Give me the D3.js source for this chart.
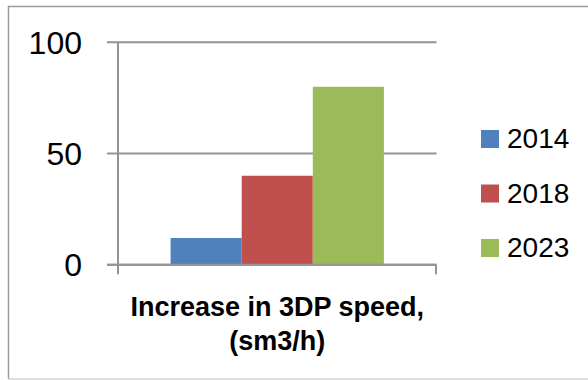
<!DOCTYPE html>
<html>
<head>
<meta charset="utf-8">
<script src="https://cdn.jsdelivr.net/npm/d3@7"></script>
<style>
  html, body { margin: 0; padding: 0; background: #fff; }
  svg { display: block; font-family: "Liberation Sans", Arial, sans-serif; }
</style>
</head>
<body>
<svg id="chart" width="588" height="380"></svg>
<script>
// Chart data
const categories = ["Increase in 3DP speed, (sm3/h)"];
const seriesNames = ["2014", "2018", "2023"];
const seriesValues = [12, 40, 80];
const seriesColors = ["#4f81bd", "#c0504d", "#9bbb59"];
const yTicks = [0, 50, 100];
const titleLines = ["Increase in 3DP speed,", "(sm3/h)"];

const svg = d3.select("#chart");

// Outer frame (right side runs off the canvas)
svg.append("path")
  .attr("d", "M600,6.5 H8.5 V379")
  .attr("fill", "none").attr("stroke", "#9a9a9a").attr("stroke-width", 1.5);
svg.append("line")
  .attr("x1", 8.5).attr("x2", 600).attr("y1", 379).attr("y2", 379)
  .attr("stroke", "#d4d4d4").attr("stroke-width", 1.5);

const plot = { left: 118, right: 436.5, top: 42.3, bottom: 264.7 };

const y = d3.scaleLinear().domain([0, 100]).range([plot.bottom, plot.top]);

const x0 = d3.scaleBand()
  .domain(categories)
  .range([plot.left, plot.right])
  .paddingInner(0)
  .paddingOuter(0.2465);

const x1 = d3.scaleBand()
  .domain(seriesNames)
  .range([0, x0.bandwidth()])
  .padding(0);

const gridColor = "#939393";

// Horizontal gridlines with tick stubs to the left of the axis
svg.append("g")
  .selectAll("line")
  .data(yTicks)
  .join("line")
  .attr("x1", plot.left - 11)
  .attr("x2", plot.right)
  .attr("y1", d => y(d))
  .attr("y2", d => y(d))
  .attr("stroke", gridColor)
  .attr("stroke-width", 2);

// Bars
const cat = categories[0];
svg.append("g")
  .selectAll("rect")
  .data(seriesNames.map((s, i) => ({ s, v: seriesValues[i], c: seriesColors[i] })))
  .join("rect")
  .attr("x", d => x0(cat) + x1(d.s))
  .attr("width", x1.bandwidth())
  .attr("y", d => y(d.v))
  .attr("height", d => y(0) - y(d.v))
  .attr("fill", d => d.c);

// Baseline redrawn over bars
svg.append("line")
  .attr("x1", plot.left - 11).attr("x2", plot.right)
  .attr("y1", y(0)).attr("y2", y(0))
  .attr("stroke", gridColor).attr("stroke-width", 2);

// Vertical value axis and category boundary ticks
svg.append("line")
  .attr("x1", plot.left).attr("x2", plot.left)
  .attr("y1", plot.top).attr("y2", plot.bottom + 9.5)
  .attr("stroke", gridColor).attr("stroke-width", 2);
svg.append("line")
  .attr("x1", plot.right - 0.5).attr("x2", plot.right - 0.5)
  .attr("y1", plot.bottom).attr("y2", plot.bottom + 9.5)
  .attr("stroke", gridColor).attr("stroke-width", 2);

// Y tick labels
svg.append("g")
  .selectAll("text")
  .data(yTicks)
  .join("text")
  .attr("x", 82)
  .attr("y", d => y(d))
  .attr("dy", "0.35em")
  .attr("text-anchor", "end")
  .attr("font-size", 32)
  .attr("fill", "#000")
  .text(d => d);

// Category title (two lines, bold)
const titleX = (plot.left + plot.right) / 2;
svg.append("text")
  .attr("text-anchor", "middle")
  .attr("font-weight", "bold")
  .attr("font-size", 27)
  .attr("fill", "#000")
  .selectAll("tspan")
  .data(titleLines)
  .join("tspan")
  .attr("x", titleX)
  .attr("y", (d, i) => 316 + i * 34)
  .text(d => d);

// Legend
const legend = svg.append("g")
  .selectAll("g")
  .data(seriesNames.map((s, i) => ({ s, c: seriesColors[i] })))
  .join("g")
  .attr("transform", (d, i) => `translate(481, ${130 + i * 54.5})`);
legend.append("rect")
  .attr("width", 18).attr("height", 18)
  .attr("fill", d => d.c);
legend.append("text")
  .attr("x", 26)
  .attr("y", 18)
  .attr("font-size", 28)
  .attr("fill", "#000")
  .text(d => d.s);
</script>
</body>
</html>
